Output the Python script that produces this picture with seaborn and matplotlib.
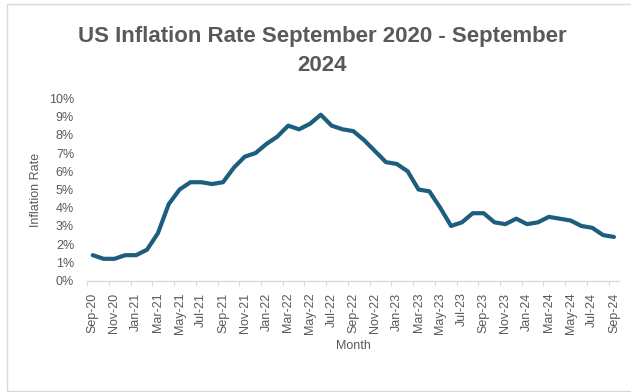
import numpy as np
import pandas as pd
import seaborn as sns
import matplotlib
matplotlib.use("Agg")
import matplotlib.pyplot as plt
from matplotlib.patches import Rectangle
from matplotlib.ticker import FixedLocator, PercentFormatter

# Monthly year-over-year CPI inflation, Sep 2020 - Sep 2024 (percent)
months = [
    "Sep-20", "Oct-20", "Nov-20", "Dec-20",
    "Jan-21", "Feb-21", "Mar-21", "Apr-21", "May-21", "Jun-21",
    "Jul-21", "Aug-21", "Sep-21", "Oct-21", "Nov-21", "Dec-21",
    "Jan-22", "Feb-22", "Mar-22", "Apr-22", "May-22", "Jun-22",
    "Jul-22", "Aug-22", "Sep-22", "Oct-22", "Nov-22", "Dec-22",
    "Jan-23", "Feb-23", "Mar-23", "Apr-23", "May-23", "Jun-23",
    "Jul-23", "Aug-23", "Sep-23", "Oct-23", "Nov-23", "Dec-23",
    "Jan-24", "Feb-24", "Mar-24", "Apr-24", "May-24", "Jun-24",
    "Jul-24", "Aug-24", "Sep-24",
]
inflation_rate = [
    1.4, 1.2, 1.2, 1.4,
    1.4, 1.7, 2.6, 4.2, 5.0, 5.4,
    5.4, 5.3, 5.4, 6.2, 6.8, 7.0,
    7.5, 7.9, 8.5, 8.3, 8.6, 9.1,
    8.5, 8.3, 8.2, 7.7, 7.1, 6.5,
    6.4, 6.0, 5.0, 4.9, 4.0, 3.0,
    3.2, 3.7, 3.7, 3.2, 3.1, 3.4,
    3.1, 3.2, 3.5, 3.4, 3.3, 3.0,
    2.9, 2.5, 2.4,
]
y_ticks = [0, 1, 2, 3, 4, 5, 6, 7, 8, 9, 10]

df = pd.DataFrame({"Month": months, "Inflation Rate": inflation_rate})

sns.set_style("white")
plt.rcParams["font.family"] = ["Liberation Sans", "DejaVu Sans"]

TEXT = "#595959"
AXIS = "#d9d9d9"
LINE = "#1d5d7e"

W, H = 631, 392
fig = plt.figure(figsize=(W / 100, H / 100), dpi=100)

# plot area in pixel terms
left, right, top, bottom = 87.3, 619.4, 98.3, 280.7
ax = fig.add_axes([left / W, 1 - bottom / H, (right - left) / W, (bottom - top) / H])

sns.lineplot(data=df, x="Month", y="Inflation Rate", ax=ax, color=LINE,
             linewidth=3.0, solid_joinstyle="round", solid_capstyle="round",
             sort=False)

n = len(months)
ax.set_xlim(-0.5, n - 0.5)
ax.set_ylim(0, 10)

# labels every other month, tick marks on category boundaries
label_pos = list(range(0, n, 2))
ax.xaxis.set_major_locator(FixedLocator(label_pos))
ax.set_xticklabels([months[i] for i in label_pos], rotation=90,
                   fontsize=9, color=TEXT)
ax.xaxis.set_minor_locator(FixedLocator([i - 0.5 for i in label_pos]))
ax.tick_params(axis="x", which="major", length=0, pad=8.5)
ax.tick_params(axis="x", which="minor", bottom=True, length=3.5,
               width=0.8, color=AXIS)

ax.set_yticks(y_ticks)
ax.yaxis.set_major_formatter(PercentFormatter(100, decimals=0))
ax.tick_params(axis="y", length=0, pad=9.5, labelsize=9, labelcolor=TEXT)

for side in ("left", "right", "top"):
    ax.spines[side].set_visible(False)
ax.spines["bottom"].set_color(AXIS)
ax.spines["bottom"].set_linewidth(1.0)
ax.grid(False)

ax.set_xlabel("Month", fontsize=9, color=TEXT)
ax.xaxis.label.set_va("center")
ax.xaxis.set_label_coords(0.5, (bottom - 346) / (bottom - top))
ax.set_ylabel("Inflation Rate", fontsize=9, color=TEXT)
ax.yaxis.label.set_va("center")
ax.yaxis.set_label_coords((36 - left) / (right - left), 0.5)

# two-line title, anchored on the baseline of its second line
fig.text(322.5 / W, 1 - 70.7 / H,
         "US Inflation Rate September 2020 - September\n2024",
         ha="center", va="baseline", fontsize=16, fontweight="bold",
         color=TEXT, linespacing=1.5)

# chart frame
fig.add_artist(Rectangle((6.5 / W, 1.3 / H), (W + 10) / W, (H - 5.3) / H,
                         transform=fig.transFigure, fill=False,
                         edgecolor=AXIS, linewidth=1.0))

fig.savefig("out.png", dpi=100, facecolor="white")
